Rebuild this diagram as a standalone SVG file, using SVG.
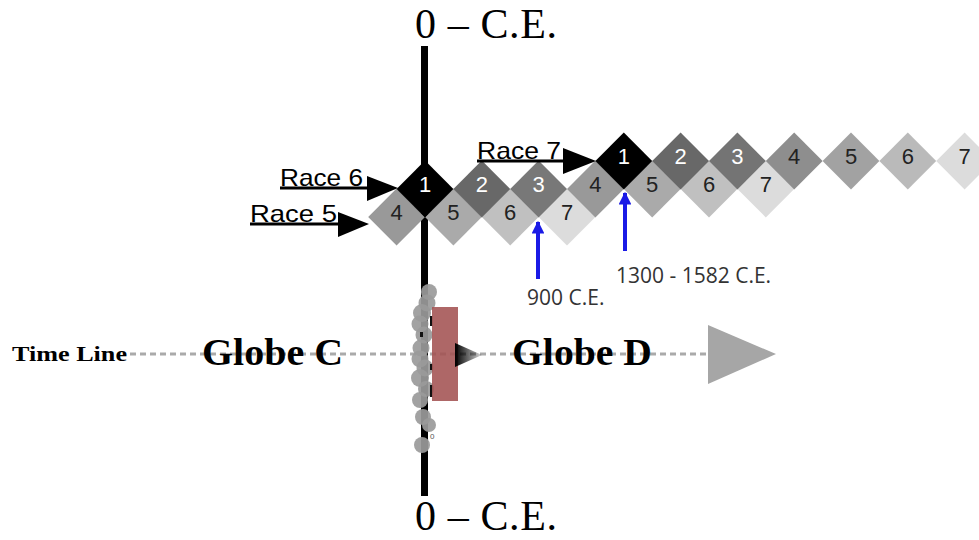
<svg xmlns="http://www.w3.org/2000/svg" width="979" height="540" viewBox="0 0 979 540">
<defs>
<style>
.n{font-family:"Liberation Sans",Arial,sans-serif;font-size:22px;text-anchor:middle}
.w{fill:#fff}
.k{fill:#222}
.race{font-family:"Liberation Sans",Arial,sans-serif;font-size:24px;fill:#000}
.ce{font-family:"Liberation Serif","Times New Roman",serif;font-size:42px;fill:#000}
.globe{font-family:"Liberation Serif","Times New Roman",serif;font-size:38px;font-weight:bold;fill:#000}
.date{font-family:"Open Sans","Noto Sans",sans-serif;font-size:21px;fill:#333}
.blue{stroke:#1a1ae6;stroke-width:4;fill:none}
.gc{fill:#9a9a9a;opacity:0.92}
</style>
<marker id="bh" viewBox="0 0 10 10" refX="9" refY="5" markerWidth="3.2" markerHeight="3.2" orient="auto" markerUnits="strokeWidth">
<path d="M0,0 L10,5 L0,10 Z" fill="#1a1ae6"/>
</marker>
<linearGradient id="tg" x1="0" y1="0" x2="1" y2="0">
<stop offset="0" stop-color="#000"/>
<stop offset="1" stop-color="#000" stop-opacity="0.15"/>
</linearGradient>
<path id="dm" d="M0,-28.4 L28.4,0 L0,28.4 L-28.4,0 Z"/>
</defs>
<rect width="979" height="540" fill="#fff"/>

<g id="axis">
<rect x="421" y="46" width="7" height="450" fill="#000"/>
<text class="ce" x="415" y="38" textLength="142" lengthAdjust="spacing">0 – C.E.</text>
<text class="ce" x="415" y="530" textLength="142" lengthAdjust="spacing">0 – C.E.</text>
</g>

<g id="race5">
<use href="#dm" x="396.6" y="217" fill="#999"/>
<use href="#dm" x="453.4" y="217" fill="#aaa"/>
<use href="#dm" x="510.2" y="217" fill="#c0c0c0"/>
<use href="#dm" x="567" y="217" fill="#dcdcdc"/>
<text class="n k" x="396.6" y="220">4</text>
<text class="n k" x="453.4" y="220">5</text>
<text class="n k" x="510.2" y="220">6</text>
<text class="n k" x="567" y="220">7</text>
</g>

<g id="race6">
<use href="#dm" x="425" y="189" fill="#000"/>
<use href="#dm" x="481.8" y="189" fill="#686868"/>
<use href="#dm" x="538.6" y="189" fill="#787878"/>
<use href="#dm" x="595.4" y="189" fill="#999"/>
<use href="#dm" x="652.2" y="189" fill="#aaa"/>
<use href="#dm" x="709" y="189" fill="#c0c0c0"/>
<use href="#dm" x="765.8" y="189" fill="#dcdcdc"/>
<text class="n w" x="425" y="192">1</text>
<text class="n w" x="481.8" y="192">2</text>
<text class="n w" x="538.6" y="192">3</text>
<text class="n k" x="595.4" y="192">4</text>
<text class="n k" x="652.2" y="192">5</text>
<text class="n k" x="709" y="192">6</text>
<text class="n k" x="765.8" y="192">7</text>
</g>

<g id="race7">
<use href="#dm" x="623.8" y="161" fill="#000"/>
<use href="#dm" x="680.6" y="161" fill="#686868"/>
<use href="#dm" x="737.4" y="161" fill="#747474"/>
<use href="#dm" x="794.2" y="161" fill="#8e8e8e"/>
<use href="#dm" x="851" y="161" fill="#a2a2a2"/>
<use href="#dm" x="907.8" y="161" fill="#bababa"/>
<use href="#dm" x="964.6" y="161" fill="#dcdcdc"/>
<text class="n w" x="623.8" y="164">1</text>
<text class="n w" x="680.6" y="164">2</text>
<text class="n w" x="737.4" y="164">3</text>
<text class="n k" x="794.2" y="164">4</text>
<text class="n k" x="851" y="164">5</text>
<text class="n k" x="907.8" y="164">6</text>
<text class="n k" x="964.6" y="164">7</text>
</g>

<g id="label-race6">
<text class="race" x="280" y="186" textLength="83" lengthAdjust="spacingAndGlyphs">Race 6</text>
</g>
<g id="label-race5">
<text class="race" x="250" y="222" textLength="87" lengthAdjust="spacingAndGlyphs">Race 5</text>
</g>
<g id="label-race7">
<text class="race" x="477" y="159" textLength="84" lengthAdjust="spacingAndGlyphs">Race 7</text>
</g>
<g id="label-900">
<text class="date" x="527" y="305">900 C.E.</text>
</g>
<g id="label-1300">
<text class="date" x="616" y="283">1300 - 1582 C.E.</text>
</g>

<g id="timeline">
<line x1="130" y1="354" x2="710" y2="354" stroke="#aaa" stroke-width="3" stroke-dasharray="6 4"/>
<polygon points="708,325 776,354 708,384" fill="#a6a6a6"/>
<text x="12" y="361" font-family="Liberation Serif,'Times New Roman',serif" font-size="21" font-weight="bold" textLength="115" lengthAdjust="spacingAndGlyphs">Time Line</text>
<text class="globe" x="202" y="365" textLength="141" lengthAdjust="spacingAndGlyphs">Globe C</text>
<text class="globe" x="512" y="365" textLength="140" lengthAdjust="spacingAndGlyphs">Globe D</text>
</g>

<g id="marker-cluster">
<circle class="gc" cx="429" cy="292" r="8"/>
<circle class="gc" cx="427" cy="303" r="8.5"/>
<circle class="gc" cx="422" cy="313" r="9"/>
<circle class="gc" cx="420" cy="324" r="8.5"/>
<circle class="gc" cx="424" cy="335" r="8.5"/>
<circle class="gc" cx="421" cy="348" r="8.5"/>
<circle class="gc" cx="420" cy="359" r="8.5"/>
<circle class="gc" cx="425" cy="368" r="8.5"/>
<circle class="gc" cx="420" cy="378" r="9"/>
<circle class="gc" cx="426" cy="389" r="8"/>
<circle class="gc" cx="420" cy="400" r="8"/>
<circle class="gc" cx="423" cy="417" r="8"/>
<circle class="gc" cx="429" cy="425" r="7"/>
<circle class="gc" cx="422" cy="445" r="8"/>
<rect x="430" y="316" width="2.5" height="10" fill="#111"/>
<rect x="430" y="364" width="2.5" height="6" fill="#111"/>
<rect x="430" y="385" width="2.5" height="12" fill="#111"/>
<rect x="420" y="332" width="3" height="5" fill="#111"/>
<text x="430" y="439" font-family="Liberation Sans,Arial,sans-serif" font-size="8" fill="#555">0</text>
<rect x="432" y="307" width="26" height="94" fill="#a35252" opacity="0.88"/>
<polygon points="455,343 482,355 455,367" fill="url(#tg)"/>
</g>

<g id="connectors">
<line x1="280" y1="188" x2="370" y2="188" stroke="#000" stroke-width="3"/>
<polygon points="367,176 398,188 367,201" fill="#000"/>
<line x1="250" y1="224" x2="340" y2="224" stroke="#000" stroke-width="3"/>
<polygon points="338,212 369,224 338,237" fill="#000"/>
<line x1="477" y1="161" x2="565" y2="161" stroke="#000" stroke-width="3"/>
<polygon points="563,148 596,161 563,174" fill="#000"/>
<line class="blue" x1="538" y1="279" x2="538" y2="222" marker-end="url(#bh)"/>
<line class="blue" x1="625" y1="251" x2="625" y2="193" marker-end="url(#bh)"/>
</g>
</svg>
